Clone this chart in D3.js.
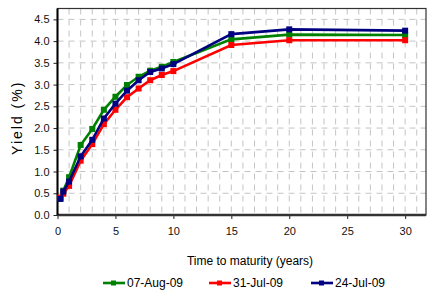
<!DOCTYPE html>
<html>
<head>
<meta charset="utf-8">
<script src="https://cdn.jsdelivr.net/npm/d3@7"></script>
<style>
  body { margin: 0; background: #fff; }
  svg { display: block; font-family: 'Liberation Sans', Arial, sans-serif; }
</style>
</head>
<body>
<div class="chart"></div>
<script>
const maturities = [0.25, 0.5, 1, 2, 3, 4, 5, 6, 7, 8, 9, 10, 15, 20, 30];
const aug07 = [0.38, 0.56, 0.87, 1.61, 1.98, 2.42, 2.72, 2.99, 3.18, 3.32, 3.41, 3.52, 4.04, 4.15, 4.14];
const jul31 = [0.40, 0.49, 0.67, 1.25, 1.63, 2.09, 2.42, 2.71, 2.91, 3.10, 3.22, 3.31, 3.91, 4.02, 4.02];
const jul24 = [0.37, 0.54, 0.77, 1.35, 1.73, 2.22, 2.56, 2.86, 3.10, 3.29, 3.37, 3.47, 4.16, 4.27, 4.24];
const seriesNames = ['07-Aug-09', '31-Jul-09', '24-Jul-09'];
const seriesColors = ['#008000', '#ff0000', '#000080'];
const xTicks = [0, 5, 10, 15, 20, 25, 30];
const yTicks = [0, 0.5, 1, 1.5, 2, 2.5, 3, 3.5, 4, 4.5];

const W = 433, H = 293;
const margin = { top: 8.5, left: 57.5, right: 7, bottom: 78 };
const width = W - margin.left - margin.right;
const height = H - margin.top - margin.bottom;

const svg = d3.select('.chart').append('svg').attr('width', W).attr('height', H);
const g = svg.append('g').attr('transform', 'translate(' + margin.left + ',' + margin.top + ')');

const x = d3.scaleLinear().domain([0, 31.8]).range([0, width]);
const y = d3.scaleLinear().domain([0, 4.75]).range([height, 0]);

// grid: vertical every year, horizontal every 0.5
g.append('g').selectAll('line').data(d3.range(1, 32))
  .enter().append('line')
  .attr('x1', d => x(d)).attr('x2', d => x(d))
  .attr('y1', 0).attr('y2', height)
  .attr('stroke', '#c4c4c4').attr('stroke-width', 1)
  .attr('stroke-dasharray', '6,5');

g.append('g').selectAll('line').data(yTicks.slice(1))
  .enter().append('line')
  .attr('x1', 0).attr('x2', width)
  .attr('y1', d => y(d)).attr('y2', d => y(d))
  .attr('stroke', '#c4c4c4').attr('stroke-width', 1)
  .attr('stroke-dasharray', '6,5');

// border
g.append('rect').attr('width', width).attr('height', height)
  .attr('fill', 'none').attr('stroke', '#333').attr('stroke-width', 1.2);

// axes
const xAxis = g.append('g').attr('transform', 'translate(0,' + height + ')')
  .call(d3.axisBottom(x).tickValues(xTicks).tickSize(4).tickPadding(8));
const yAxis = g.append('g')
  .call(d3.axisLeft(y).tickValues(yTicks).tickFormat(d3.format('.1f')).tickSize(4).tickPadding(4));

[xAxis, yAxis].forEach(a => {
  a.select('.domain').remove();
  a.selectAll('line').attr('stroke', '#222');
  a.selectAll('text').attr('fill', '#111').style('font-size', '11px')
    .style('font-family', "'Liberation Sans', Arial, sans-serif");
});

g.append('line').attr('x1', 0).attr('x2', width).attr('y1', height).attr('y2', height)
  .attr('stroke', '#333').attr('stroke-width', 2.5);
g.append('line').attr('x1', 0).attr('x2', 0).attr('y1', 0).attr('y2', height)
  .attr('stroke', '#000').attr('stroke-width', 2);

// series
const line = d3.line().x(d => x(d[0])).y(d => y(d[1]));
[aug07, jul31, jul24].forEach(function (vals, i) {
  const pts = maturities.map((m, j) => [m, vals[j]]);
  g.append('path').datum(pts)
    .attr('d', line).attr('fill', 'none')
    .attr('stroke', seriesColors[i]).attr('stroke-width', 2.6);
  g.append('g').selectAll('rect').data(pts)
    .enter().append('rect')
    .attr('x', d => x(d[0]) - 3).attr('y', d => y(d[1]) - 3)
    .attr('width', 6).attr('height', 6)
    .attr('fill', seriesColors[i]);
});

// titles
svg.append('text')
  .attr('transform', 'translate(22,' + (margin.top + height / 2 + 6) + ') rotate(-90)')
  .attr('text-anchor', 'middle')
  .style('font-size', '14px').style('letter-spacing', '2px')
  .text('Yield (%)');

svg.append('text')
  .attr('x', 250).attr('y', 265)
  .attr('text-anchor', 'middle')
  .style('font-size', '12px')
  .text('Time to maturity (years)');

// legend
const legendX = [103, 209, 311];
const legend = svg.append('g').selectAll('g').data(seriesNames)
  .enter().append('g')
  .attr('transform', (d, i) => 'translate(' + legendX[i] + ',283)');
legend.append('line').attr('x1', 0).attr('x2', 22).attr('y1', 0).attr('y2', 0)
  .attr('stroke', (d, i) => seriesColors[i]).attr('stroke-width', 2.6);
legend.append('rect').attr('x', 8).attr('y', -2.5).attr('width', 5).attr('height', 5)
  .attr('fill', (d, i) => seriesColors[i]);
legend.append('text').attr('x', 24).attr('y', 4)
  .style('font-size', '12px')
  .text(d => d);
</script>
</body>
</html>
